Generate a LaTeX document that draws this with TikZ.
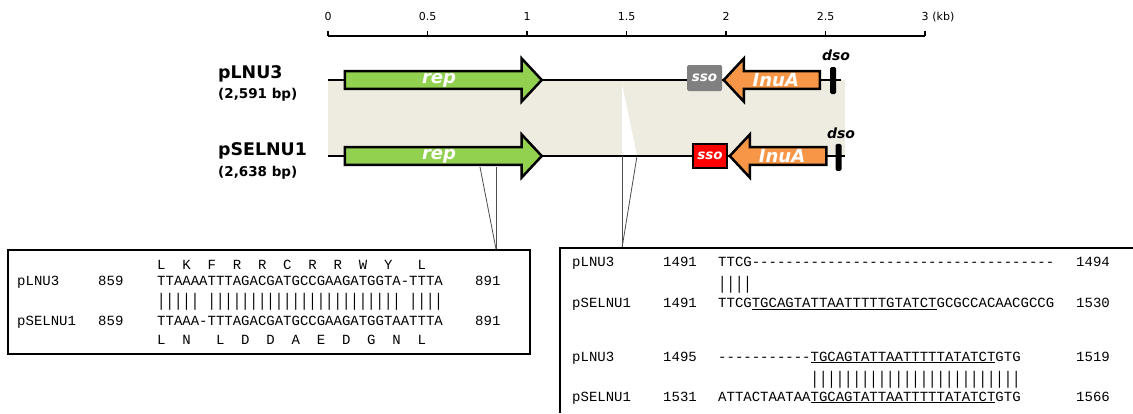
\documentclass[tikz,border=0pt]{standalone}
\usepackage{fontspec}
\setsansfont{DejaVu Sans}
\setmonofont{Liberation Mono}
\usepackage{graphicx}
\usetikzlibrary{shapes.arrows}

\definecolor{repgreen}{HTML}{92D050}
\definecolor{lnuorange}{HTML}{F79646}
\definecolor{bandgray}{HTML}{EEECE1}
\definecolor{ssogray}{HTML}{808080}

\begin{document}
\begin{tikzpicture}[x=1pt, y=-1pt, font=\sffamily,
		gene/.style={single arrow, draw, line width=2.5pt, inner sep=0pt, minimum width=43pt,
			single arrow head extend=11.5pt, single arrow tip angle=94, text=white,
			font=\fontsize{18}{20}\selectfont\sffamily\bfseries\itshape},
		plasmid/.style={anchor=base west, inner sep=0pt, font=\fontsize{17.4}{20}\selectfont\sffamily\bfseries},
		sizelbl/.style={anchor=base west, inner sep=0pt, font=\fontsize{13.5}{16}\selectfont\sffamily\bfseries},
		kbtick/.style={anchor=base, inner sep=0pt, font=\fontsize{11}{13}\selectfont\sffamily},
		ssobox/.style={minimum width=34pt, minimum height=24pt, inner sep=0pt, text=white,
			font=\fontsize{13.5}{15}\selectfont\sffamily\bfseries\itshape},
		dsobar/.style={fill=black, rounded corners=1.5pt, minimum width=6pt, minimum height=27pt, inner sep=0pt},
		dsotxt/.style={anchor=base, inner sep=0pt, font=\fontsize{14}{16}\selectfont\sffamily\bfseries\itshape},
		seq/.style={anchor=base west, inner sep=0pt, font=\fontsize{14}{16}\selectfont\ttfamily},
		seqbox/.style={draw, line width=1.8pt, inner sep=0pt},
		zoomline/.style={draw=black!70, line width=0.8pt}]
		\useasboundingbox (0,0) rectangle (1133,413);

		% scale in kb
		\draw[line width=1.8pt] (328,35.7) -- (925,35.7);
		\foreach \k/\lab [count=\i] in {0/0,0.5/0.5,1/1,1.5/1.5,2/2,2.5/2.5,3/3} {
			\draw[line width=1.4pt] ({328+199*\k},35.7) -- ++(0,-4.5);
			\node[kbtick] (tick\i) at ({328+199*\k},20.7) {\lab};
		}
		\node[kbtick, anchor=base west] (kbunit) at ([xshift=3.5pt]tick7.base east) {(kb)};

		% shared region
		\fill[bandgray] (328,80) rectangle (845,156);
		\fill[white] (622,84) -- (622,156) -- (637,156) -- cycle;

		% backbones
		\draw[line width=1.6pt] (328,80) -- (841,80);
		\draw[line width=1.6pt] (328,156) -- (845,156);

		\node[plasmid] (name1) at (218,78.7) {pLNU3};
		\node[sizelbl] (size1) at (218,98) {(2,591 bp)};
		\node[plasmid] (name2) at (218,155) {pSELNU1};
		\node[sizelbl] (size2) at (218,176.5) {(2,638 bp)};

		% pLNU3
		\node[gene, fill=repgreen, minimum height=197pt, anchor=tail] (rep1) at (343.5,80) {rep};
		\node[ssobox, fill=ssogray, rounded corners=1.5pt, minimum width=35pt, minimum height=26pt] (sso1) at (704.5,78) {sso};
		\node[gene, fill=lnuorange, minimum height=96pt, shape border rotate=180, anchor=tail] (lnu1) at (821,80) {InuA};
		\node[dsobar] (bar1) at (833,80.5) {};
		\node[dsotxt] (dso1) at (836,60) {dso};

		% pSELNU1
		\node[gene, fill=repgreen, minimum height=197pt, anchor=tail] (rep2) at (343.5,156) {rep};
		\node[ssobox, draw=black, line width=1.5pt, fill=red] (sso2) at (710,156) {sso};
		\node[gene, fill=lnuorange, minimum height=96.5pt, shape border rotate=180, anchor=tail] (lnu2) at (827.5,156) {InuA};
		\node[dsobar] (bar2) at (838.5,157.3) {};
		\node[dsotxt] (dso2) at (841,138.3) {dso};

		% zoom lines
		\coordinate (cutA) at (480,167);
		\coordinate (cutB) at (496,167);
		\coordinate (cutC) at (622,156);
		\coordinate (cutD) at (637,156);
		\coordinate (lfoot) at (496,249);
		\coordinate (rfoot) at (622,248);
		\draw[zoomline] (cutA) -- (lfoot);
		\draw[zoomline] (cutB) -- (lfoot);
		\draw[zoomline] (cutC) -- (rfoot);
		\draw[zoomline] (cutD) -- (rfoot);

		% left alignment
		\node[seqbox, anchor=north west, minimum width=522pt, minimum height=104pt] (lbox) at (7,249) {};
		\node[seq] (laa1) at (157,269) {L~~K~~F~~R~~R~~C~~R~~R~~W~~Y~~~L};
		\node[seq] (lname1) at (17,285) {pLNU3};
		\node[seq] (lpos1) at (98,285) {859};
		\node[seq] (lseq1) at (157,285) {TTAAAATTTAGACGATGCCGAAGATGGTA-TTTA};
		\node[seq] (lend1) at (475,285) {891};
		\node[seq, anchor=west] (lbars) at (157,302) {\scalebox{1}[1.3]{|||||~|||||||||||||||||||||||~||||}};
		\node[seq] (lname2) at (17,325) {pSELNU1};
		\node[seq] (lpos2) at (98,325) {859};
		\node[seq] (lseq2) at (157,325) {TTAAA-TTTAGACGATGCCGAAGATGGTAATTTA};
		\node[seq] (lend2) at (475,325) {891};
		\node[seq] (laa2) at (157,344) {L~~N~~~L~~D~~D~~A~~E~~D~~G~~N~~L};

		% right alignment
		\draw[seqbox] (560,413) |- (1133,248);
		\node[seq] (rname1) at (572,266.7) {pLNU3};
		\node[seq] (rpos1) at (663,266.7) {1491};
		\node[seq] (rseq1) at (718,266.7) {TTCG------------------------------------};
		\node[seq] (rend1) at (1076,266.7) {1494};
		\node[seq, anchor=west] (rbars1) at (718,285) {\scalebox{1}[1.3]{||||}};
		\node[seq] (rname2) at (572,307.7) {pSELNU1};
		\node[seq] (rpos2) at (663,307.7) {1491};
		\node[seq] (rseq2) at (718,307.7) {TTCG\underline{TGCAGTATTAATTTTTGTATCT}GCGCCACAACGCCG};
		\node[seq] (rend2) at (1076,307.7) {1530};
		\node[seq] (rname3) at (572,361) {pLNU3};
		\node[seq] (rpos3) at (663,361) {1495};
		\node[seq] (rseq3) at (718,361) {-----------\underline{TGCAGTATTAATTTTTATATCT}GTG};
		\node[seq] (rend3) at (1076,361) {1519};
		\node[seq, anchor=west] (rbars2) at (718,380) {\scalebox{1}[1.3]{~~~~~~~~~~~|||||||||||||||||||||||||}};
		\node[seq] (rname4) at (572,401) {pSELNU1};
		\node[seq] (rpos4) at (663,401) {1531};
		\node[seq] (rseq4) at (718,401) {ATTACTAATAA\underline{TGCAGTATTAATTTTTATATCT}GTG};
		\node[seq] (rend4) at (1076,401) {1566};

	\end{tikzpicture}
\end{document}
